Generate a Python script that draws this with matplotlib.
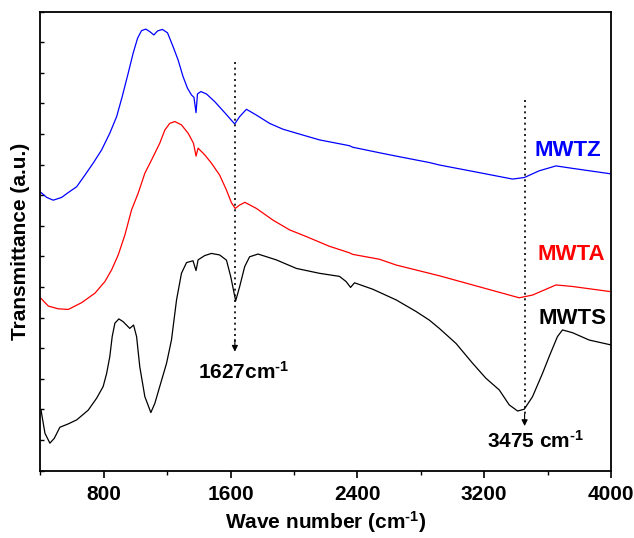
import numpy as np
import matplotlib
matplotlib.use("Agg")
import matplotlib.pyplot as plt
from matplotlib.ticker import MultipleLocator, NullFormatter

plt.rcParams['font.family'] = ['Liberation Sans', 'DejaVu Sans']
plt.rcParams['font.weight'] = 'bold'
plt.rcParams['mathtext.fontset'] = 'custom'
plt.rcParams['mathtext.rm'] = 'Liberation Sans:bold'
plt.rcParams['mathtext.bf'] = 'Liberation Sans:bold'
plt.rcParams['mathtext.it'] = 'Liberation Sans:bold'

# spectra (wave number, offset transmittance)
mwtz_x = [404, 440, 481, 534, 576, 629, 681, 733, 786, 838, 881, 916, 954, 985, 1013,
          1038, 1065, 1090, 1116, 1139, 1170, 1202, 1237, 1269, 1300, 1328, 1353, 1369,
          1382, 1391, 1412, 1448, 1500, 1563, 1626, 1657, 1700, 1763, 1846, 1930, 2015,
          2161, 2350, 2371, 2539, 2645, 2854, 2917, 3169, 3379, 3453, 3547, 3653, 3757,
          4000]
mwtz_y = [9.09, 8.93, 8.84, 8.93, 9.09, 9.28, 9.66, 10.05, 10.48, 11.03, 11.57, 12.22,
          12.99, 13.64, 14.13, 14.38, 14.43, 14.35, 14.24, 14.37, 14.42, 14.31, 13.86,
          13.42, 12.88, 12.50, 12.28, 12.20, 11.70, 12.31, 12.39, 12.31, 12.06, 11.70,
          11.33, 11.57, 11.81, 11.62, 11.35, 11.16, 11.03, 10.81, 10.62, 10.57, 10.39,
          10.28, 10.07, 9.99, 9.74, 9.53, 9.58, 9.80, 9.96, 9.88, 9.70]

mwta_x = [404, 450, 513, 576, 660, 744, 807, 849, 891, 933, 975, 1017, 1059, 1101, 1153,
          1185, 1216, 1248, 1290, 1332, 1366, 1382, 1395, 1437, 1479, 1531, 1574, 1605,
          1629, 1657, 1690, 1763, 1867, 1972, 2078, 2220, 2350, 2370, 2539, 2645, 2917,
          3169, 3421, 3505, 3653, 3757, 4000]
mwta_y = [5.63, 5.38, 5.29, 5.27, 5.49, 5.80, 6.18, 6.56, 7.05, 7.70, 8.52, 9.07, 9.72,
          10.15, 10.70, 11.13, 11.35, 11.41, 11.30, 11.03, 10.70, 10.28, 10.54, 10.32,
          10.05, 9.66, 9.17, 8.76, 8.57, 8.68, 8.77, 8.57, 8.19, 7.87, 7.65, 7.34, 7.12,
          7.07, 6.91, 6.72, 6.37, 6.01, 5.65, 5.74, 6.07, 6.02, 5.85]

mwts_x = [404, 429, 460, 488, 523, 576, 629, 702, 755, 796, 818, 838, 853, 870, 895, 922,
          964, 988, 1007, 1027, 1059, 1097, 1122, 1153, 1196, 1227, 1259, 1290, 1322, 1363,
          1382, 1395, 1437, 1479, 1531, 1574, 1601, 1632, 1657, 1689, 1720, 1773, 1888,
          2015, 2161, 2287, 2329, 2357, 2382, 2497, 2645, 2771, 2854, 2917, 3022, 3127,
          3211, 3295, 3358, 3411, 3453, 3505, 3568, 3610, 3662, 3694, 3757, 3862, 4000]
mwts_y = [1.98, 1.22, 0.90, 1.06, 1.42, 1.53, 1.66, 1.98, 2.37, 2.75, 3.18, 3.73, 4.38,
          4.82, 4.96, 4.87, 4.65, 4.76, 4.38, 3.40, 2.42, 1.90, 2.20, 2.75, 3.51, 4.27,
          5.58, 6.45, 6.80, 6.86, 6.54, 6.89, 7.03, 7.10, 7.05, 6.88, 6.34, 5.55, 6.01,
          6.67, 6.99, 7.08, 6.89, 6.61, 6.45, 6.35, 6.18, 5.99, 6.14, 5.93, 5.58, 5.20,
          4.92, 4.65, 4.16, 3.51, 3.02, 2.64, 2.15, 1.95, 2.01, 2.42, 3.18, 3.73, 4.38,
          4.60, 4.51, 4.27, 4.11]

peak_pos = [1627, 3455]
peak_top = [13.36, 12.11]
peak_tip = [3.89, 1.46]


def main():
    fig = plt.figure(figsize=(6.34, 5.38), dpi=100)
    ax = fig.add_axes([0.0637, 0.1251, 0.9, 0.8532])

    ax.plot(mwtz_x, mwtz_y, color='#0000ff', lw=0.9)
    ax.plot(mwta_x, mwta_y, color='#ff0000', lw=0.9)
    ax.plot(mwts_x, mwts_y, color='black', lw=0.9)

    # dotted markers with arrow heads
    for x, top, tip in zip(peak_pos, peak_top, peak_tip):
        ax.plot([x, x], [top, tip + 0.3], color='black', ls=(0, (1.2, 2.2)), lw=1.2)
        ax.annotate('', xy=(x, tip), xytext=(x, tip + 0.4),
                    arrowprops=dict(arrowstyle='-|>', color='black', lw=0.8,
                                    mutation_scale=9, shrinkA=0, shrinkB=0))

    ax.text(1685, 3.22, '1627cm$^{\\text{-1}}$', fontsize=15, fontweight='bold',
            ha='center', va='center')
    ax.text(3527, 0.98, '3475 cm$^{\\text{-1}}$', fontsize=15, fontweight='bold',
            ha='center', va='center')

    ax.text(3725, 10.45, 'MWTZ', color='#0000ff', fontsize=16, fontweight='bold',
            ha='center', va='center')
    ax.text(3750, 7.05, 'MWTA', color='#ff0000', fontsize=16, fontweight='bold',
            ha='center', va='center')
    ax.text(3755, 4.98, 'MWTS', color='black', fontsize=16, fontweight='bold',
            ha='center', va='center')

    ax.set_xlim(400, 4000)
    ax.set_ylim(0, 15)
    ax.set_xticks([800, 1600, 2400, 3200, 4000])
    ax.xaxis.set_minor_locator(MultipleLocator(400))
    ax.yaxis.set_major_locator(MultipleLocator(1))
    ax.yaxis.set_major_formatter(NullFormatter())
    ax.tick_params(axis='x', which='major', direction='out', length=5, width=1.2,
                   labelsize=15, pad=5)
    ax.tick_params(axis='x', which='minor', direction='out', length=3, width=1.0)
    ax.tick_params(axis='y', which='major', direction='in', length=3, width=1.0)
    for lbl in ax.get_xticklabels():
        lbl.set_fontweight('bold')
    for sp in ax.spines.values():
        sp.set_linewidth(1.3)

    ax.set_xlabel('Wave number (cm$^{\\text{-1}}$)', fontsize=15, fontweight='bold',
                  labelpad=4)
    ax.set_ylabel('Transmittance (a.u.)', fontsize=15, fontweight='bold', labelpad=4)

    fig.savefig('out.png', dpi=100)


if __name__ == "__main__":
    main()
